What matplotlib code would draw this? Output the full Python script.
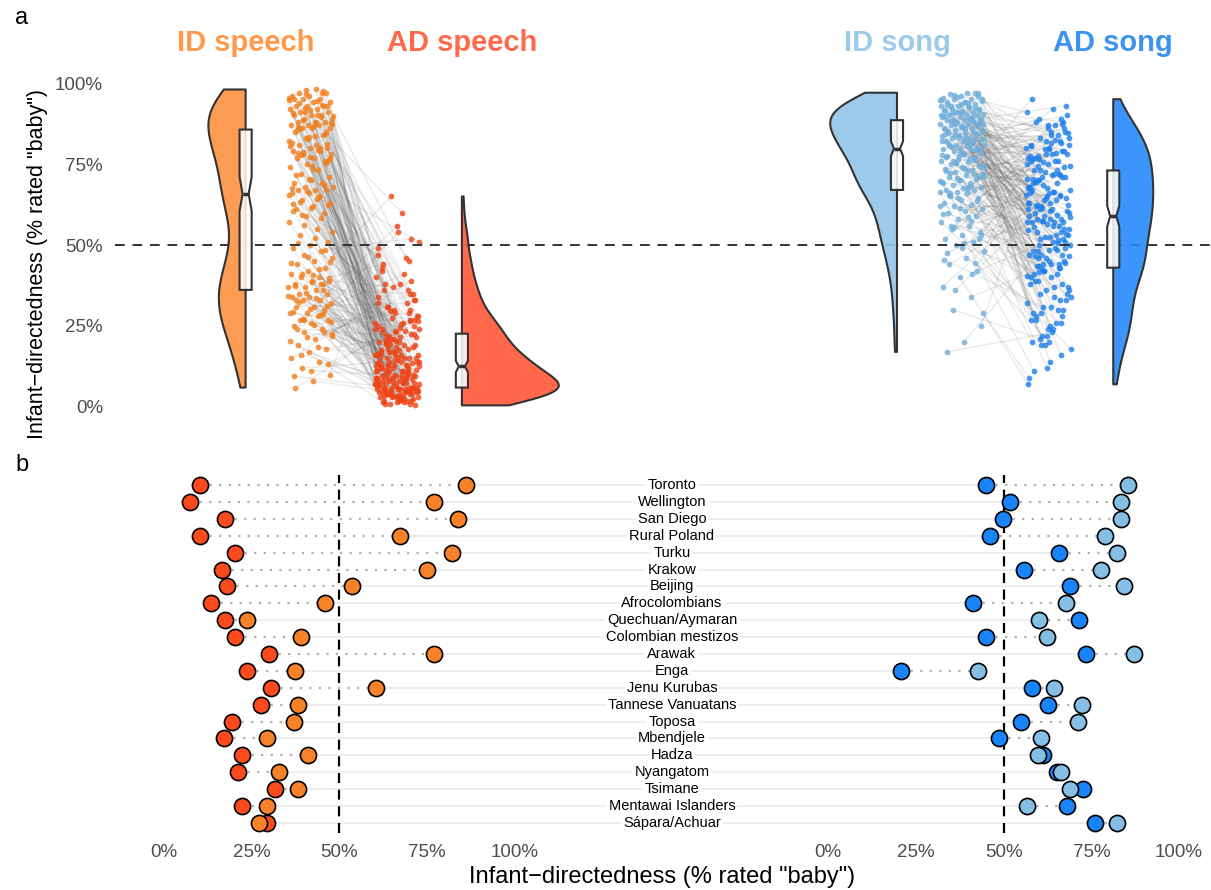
import numpy as np
import matplotlib.pyplot as plt
from matplotlib.patches import Polygon
from matplotlib.collections import LineCollection

plt.rcParams['font.family'] = ['Liberation Sans', 'DejaVu Sans']

W, H = 1211, 890

# ---- panel a: % rated "baby" per recording, same index = same pair
id_speech = [98, 97, 97, 96, 96, 95, 95, 94, 94, 93, 93, 93, 92, 92, 91, 91, 90, 90, 90, 89,
             89, 88, 88, 88, 87, 87, 87, 86, 86, 86,
             85, 84, 83, 82, 81, 81, 80, 80, 79, 79, 78, 78, 77, 77, 76, 75, 74, 73, 72, 71,
             70, 69, 69, 68, 68, 67, 67, 67, 66, 66,
             65, 64, 63, 62, 61, 60, 59, 57, 55, 53, 51, 50, 49, 48, 47, 46, 45, 44, 43, 42,
             41, 40, 40, 39, 39, 38, 38, 37, 37, 36,
             35, 35, 34, 34, 33, 33, 32, 31, 31, 30, 29, 29, 28, 27, 27, 26, 25, 24, 23, 22,
             21, 19, 18, 17, 15, 14, 12, 10, 8, 6,
             97.5, 96.5, 95.5, 94.5, 93.8, 92.8, 91.8, 90.6, 89.4, 88.6, 87.8, 86.8, 85.5, 84.2, 82.8,
             80.5, 79.2, 77.8, 76.2, 74.5, 95.2, 93.3, 91.1, 89.8, 88.1, 86.4, 84.8, 83.2, 81.6, 79.8,
             78.6, 76.8, 73.6, 71.5, 68.4, 66.8, 65.5, 64.2, 63.3, 62.4, 61.5, 60.4, 58.2, 56.3, 54.1,
             52.2, 50.5, 48.6, 46.4, 44.3, 42.5, 41.2, 39.8, 38.6, 37.4, 36.2, 35.3, 34.4, 33.6, 32.4,
             31.2, 30.3, 29.4, 28.4, 27.3, 26.2, 25.3, 24.2, 23.1, 21.5, 20.3, 18.5, 16.2, 13.4, 11.2,
             9.5, 96.8, 92.4, 87.4, 83.6, 78.3, 75.4, 70.4, 67.6, 64.8, 59.4, 44.8, 40.6, 33.1, 28.8,
             97.9, 94.9, 90.2, 86.1, 81.1, 77.1, 62.8, 38.1, 26.8, 22.6]
ad_speech = [12, 3, 22, 7, 45, 5.5, 15, 9, 30, 2, 18, 11, 6, 38, 4, 25, 8.5, 14, 1, 20,
             10, 60, 5, 16.5, 27, 7.5, 3.5, 13, 33, 19,
             6.5, 24, 9.5, 2.5, 17, 42, 11.5, 4.5, 21, 8, 28, 5, 14.5, 36, 3, 12.5, 23, 7, 51, 10.5,
             1.5, 19.5, 26, 6, 15.5, 9, 40, 4, 17.5, 31,
             13.5, 5.5, 24.5, 8, 47, 2, 21.5, 11, 34, 6, 16, 29.5, 4.5, 18.5, 10, 65, 3, 22.5, 7.5, 27.5,
             12, 0.5, 15, 37, 9.5, 5, 23.5, 13, 44, 6,
             8.5, 17, 3.5, 26.5, 10, 20.5, 5, 14, 32, 7, 1, 24, 11, 56, 4, 16, 29, 6, 19, 12.5,
             35, 2.5, 21, 9, 39, 5.5, 14, 49, 4, 25.5,
             5, 14, 2.5, 9, 21, 6.5, 33, 11, 4, 17, 7.5, 26, 3, 12, 19, 1.5, 8, 43, 15, 5.5,
             10, 23, 4.5, 13, 29, 6, 16, 2, 9.5, 38, 7, 18, 3.5, 11.5, 24, 5, 14.5, 31, 8.5, 1,
             20, 12.5, 6.5, 27, 3, 10.5, 16.5, 52, 4, 22, 8, 13.5, 2.5, 19.5, 7, 35, 11, 5.5, 15.5, 25,
             3.5, 9, 17.5, 6, 41, 12, 4.5, 21.5, 8.5, 30, 1.5, 14, 7.5, 23.5, 10, 5, 46, 16, 2, 28,
             9.5, 18.5, 6, 12.5, 36, 3, 20.5, 7, 15, 54, 4, 11, 26.5, 8, 13, 5.5, 22.5, 2.5, 17, 32]
id_song = [97, 96.5, 96, 96, 95.5, 95, 95, 94.5, 94, 94, 93.5, 93, 93, 92.5, 92, 92, 91.5, 91.5, 91, 91,
           90.5, 90.5, 90, 90, 89.5, 89.5, 89, 89, 89, 88.7,
           88.5, 88, 88, 87.5, 87.5, 87, 87, 86.5, 86, 86, 85.5, 85, 85, 84.5, 84, 84, 83.5, 83, 83, 82.5,
           82, 82, 81.5, 81, 81, 80.5, 80.5, 80, 80, 79.7,
           79.5, 79, 78.5, 78, 77.5, 77, 76.5, 76, 75.5, 75, 74.5, 74, 73.5, 73, 72.5, 72, 71.5, 71, 70.5, 70,
           69.5, 69, 68.5, 68, 67.5, 67, 67, 66.5, 66.5, 66,
           65, 64.5, 64, 63, 62.5, 62, 61, 60.5, 60, 59, 58, 57, 56, 55, 54, 53, 52, 51, 50, 48,
           46, 44, 42, 40, 37, 34, 30, 25, 20, 17,
           96.8, 95.8, 94.8, 93.8, 92.8, 91.8, 90.8, 89.8, 88.9, 88.2, 87.2, 86.2, 85.2, 84.2, 83.2,
           82.2, 81.2, 80.2, 79.2, 78.2, 77.2, 76.2, 75.2, 74.2, 73.2, 72.2, 71.2, 70.2, 69.2, 68.2,
           96.2, 95.2, 94.2, 93.2, 92.2, 91.2, 90.2, 89.2, 88.4, 87.8, 86.8, 85.8, 84.8, 83.8, 82.8,
           81.8, 80.8, 79.8, 78.8, 77.8, 76.8, 75.8, 74.8, 73.8, 72.8, 71.8, 70.8, 69.8, 67.8, 66.2,
           97, 93.6, 91.6, 89.4, 87.4, 85.4, 83.4, 81.4, 79.4, 77.4, 94.6, 92.6, 90.6, 88.6, 86.4,
           84.4, 82.4, 75.4, 71.4, 67.2, 65.5, 63.5, 61.5, 59.5, 57.5, 55.5, 53, 50.5, 47.5, 44.5,
           64.5, 62, 58.5, 56, 52, 49, 45.5, 41, 36, 29]
ad_song = [82, 45, 70, 91, 58, 25, 76.5, 63, 38, 85, 52, 68, 79, 31, 73, 47, 88, 61, 19, 77.5,
           55, 66.5, 42.5, 80.5, 71, 34, 75.5, 57, 93, 49,
           64, 29, 78, 53, 72.5, 41, 84.5, 59.2, 36, 69.5, 46.5, 76, 22, 62, 81, 50.5, 67.5, 27, 74.5, 56,
           87, 43.5, 65.5, 33, 79.5, 48, 70.5, 16, 60.5, 89,
           54.5, 87.5, 40, 83, 58.8, 30, 71.5, 47, 66, 86, 24, 61.5, 76, 51, 37, 68.5, 95, 44.5, 72, 57.5,
           20, 64.5, 82.5, 42, 69, 35, 78.5, 52.5, 11, 62.5,
           48.5, 78, 39, 60, 84, 56.5, 28, 67, 43, 75, 54, 18, 65, 80, 46, 32, 81.5, 58, 41.8, 77,
           26, 63, 50, 7, 71, 44, 21, 68, 57, 23,
           62, 38, 79, 51, 71, 27, 85, 57, 44, 67, 33, 76, 59, 48, 90, 64, 19, 73, 53, 41,
           82, 60, 36, 69, 46, 77, 55, 30, 65, 88, 50, 72, 24, 58, 80, 43, 66, 39, 75, 54,
           14, 70, 61, 47, 84, 35, 63, 52, 78, 29, 68, 45, 92, 57.5, 40, 74, 56, 22, 81, 49,
           66.5, 31, 76.5, 53.5, 87, 42, 70.5, 60.5, 26, 79.5, 55.5, 37, 73, 64.5, 46.5, 83, 51.5, 12,
           69.5, 58.5, 44, 86, 62.5, 34, 71.5, 48.5, 77.5, 40.5, 65.5, 20,
           74.5, 57, 89, 52.5, 43.5, 67.5, 28, 81.5, 61, 9]

# ---- panel b: society means
societies = ['Toronto', 'Wellington', 'San Diego', 'Rural Poland', 'Turku', 'Krakow', 'Beijing',
             'Afrocolombians', 'Quechuan/Aymaran', 'Colombian mestizos', 'Arawak', 'Enga',
             'Jenu Kurubas', 'Tannese Vanuatans', 'Toposa', 'Mbendjele', 'Hadza', 'Nyangatom',
             'Tsimane', 'Mentawai Islanders', 'Sápara/Achuar']
soc_ad_speech = [10.3, 7.4, 17.4, 10.3, 20.3, 16.6, 18.0, 13.4, 17.4, 20.3, 30.0, 23.7,
                 30.6, 27.7, 19.4, 17.1, 22.3, 21.1, 31.7, 22.3, 29.4]
soc_id_speech = [86.0, 76.9, 83.7, 67.1, 82.0, 74.9, 53.7, 46.0, 23.7, 38.9, 76.9, 37.4,
                 60.3, 38.3, 36.9, 29.4, 41.1, 32.9, 38.3, 29.4, 27.1]
soc_ad_song = [44.9, 51.7, 49.7, 46.0, 65.7, 55.7, 69.0, 41.4, 71.4, 44.9, 73.4, 20.9,
               58.0, 62.6, 54.9, 48.6, 61.1, 65.1, 72.6, 68.0, 76.0]
soc_id_song = [85.4, 83.4, 83.4, 79.0, 82.3, 77.7, 84.3, 67.7, 60.0, 62.3, 87.1, 42.6,
               64.3, 72.3, 71.1, 60.6, 59.7, 66.3, 68.9, 56.6, 82.3]

groups = ['ID speech', 'AD speech', 'ID song', 'AD song']
values = [id_speech, ad_speech, id_song, ad_song]
fills = ['#FD9140', '#FF5837', '#93C5E9', '#268AFA']
ptcol = ['#F07F1F', '#EE4416', '#6FAEDB', '#1E7FEA']
titlecol = ['#FF9A4D', '#FF6A4A', '#9ECAE9', '#3D93F0']
pos = [0, 1, 7.53, 8.53]
side = [-1, 1, -1, 1]
EDGE = '#333333'


def kde(vals, grid, adjust=0.9):
    v = np.asarray(vals, float)
    n = len(v)
    q75, q25 = np.percentile(v, [75, 25])
    bw = adjust * 0.9 * min(v.std(ddof=1), (q75 - q25) / 1.34) * n ** -0.2
    d = np.exp(-0.5 * ((grid[:, None] - v[None, :]) / bw) ** 2).sum(1)
    return d / (n * bw * np.sqrt(2 * np.pi))


def jitter(n, mult, width=0.52):
    k = np.arange(1, n + 1)
    return ((k * mult) % 1 - 0.5) * width


fig = plt.figure(figsize=(W / 100, H / 100), dpi=100)

# ================= panel a =================
axa = fig.add_axes([115 / W, 1 - 430 / H, 1096 / W, 370 / H])
axa.set_xlim(-2.26, 10.41)
axa.set_ylim(-7.1, 107.1)

axa.axhline(50, color=EDGE, lw=1.4, ls=(0, (5, 4)), zorder=2.5)

# paired lines + points
for a, b in [(0, 1), (2, 3)]:
    ya = np.asarray(values[a], float)
    yb = np.asarray(values[b], float)
    xa = pos[a] + jitter(len(ya), 0.6180339887)
    xb = pos[b] + jitter(len(yb), 0.7548776662)
    segs = [[(xa[i], ya[i]), (xb[i], yb[i])] for i in range(len(ya))]
    axa.add_collection(LineCollection(segs, colors='#555555', alpha=0.12, lw=1.0, zorder=1))
    axa.scatter(xa, ya, s=17, color=ptcol[a], alpha=0.8, lw=0, zorder=2)
    axa.scatter(xb, yb, s=17, color=ptcol[b], alpha=0.8, lw=0, zorder=2)

# half violins, common area scaling
grids = [np.linspace(min(v), max(v), 300) for v in values]
dens = [kde(v, g) for v, g in zip(values, grids)]
dmax = max(d.max() for d in dens)
wmax = 1.12
for i in range(4):
    x0 = pos[i] + side[i] * 0.75
    w = dens[i] / dmax * wmax
    g = grids[i]
    pts = [(x0, g[0])] + [(x0 + side[i] * wi, yi) for wi, yi in zip(w, g)] + [(x0, g[-1])]
    axa.add_patch(Polygon(pts, closed=True, fc=fills[i] + 'E6', ec=EDGE, lw=1.5,
                          zorder=3, joinstyle='round'))

    # notched box
    v = np.asarray(values[i], float)
    q1, med, q3 = np.percentile(v, [25, 50, 75])
    nd = 1.58 * (q3 - q1) / np.sqrt(len(v))
    lo, hi = med - nd, med + nd
    hw, nw = 0.07, 0.035
    box = [(x0 - hw, q1), (x0 + hw, q1), (x0 + hw, lo), (x0 + nw, med), (x0 + hw, hi),
           (x0 + hw, q3), (x0 - hw, q3), (x0 - hw, hi), (x0 - nw, med), (x0 - hw, lo)]
    axa.add_patch(Polygon(box, closed=True, fc=(1, 1, 1, 0.85), ec=EDGE, lw=1.5, zorder=5))
    axa.plot([x0 - nw, x0 + nw], [med, med], color=EDGE, lw=2.5, zorder=6,
             solid_capstyle='butt')

    axa.text(x0, 112.4, groups[i], color=titlecol[i], fontsize=21, fontweight='bold',
             ha='center', va='center', clip_on=False)

axa.set_yticks([0, 25, 50, 75, 100])
axa.set_yticklabels(['0%', '25%', '50%', '75%', '100%'])
axa.set_xticks([])
axa.tick_params(axis='y', length=0, pad=8.6, labelsize=13.5, labelcolor='#4D4D4D')
for s in axa.spines.values():
    s.set_visible(False)

# ================= panel b =================
axb = fig.add_axes([115 / W, 1 - 833 / H, 1096 / W, 358 / H])
off = 189.2
name_x = 144.7
axb.set_xlim(-13.96, 298.3)
axb.set_ylim(0.4, 21.6)

rows = np.arange(len(societies), 0, -1)
for k, y in enumerate(rows):
    s_hi = max(soc_ad_speech[k], soc_id_speech[k])
    g_lo = min(soc_ad_song[k], soc_id_song[k]) + off
    axb.plot([s_hi, g_lo], [y, y], color='#EBEBEB', lw=1.2, zorder=1)
    axb.plot([soc_ad_speech[k], soc_id_speech[k]], [y, y], color='#B0B0B0', lw=1.6,
             ls=(0, (1, 3.3)), zorder=2)
    axb.plot([soc_ad_song[k] + off, soc_id_song[k] + off], [y, y], color='#B0B0B0', lw=1.6,
             ls=(0, (1, 3.3)), zorder=2)
    axb.text(name_x, y, societies[k], ha='center', va='center', fontsize=10.5, zorder=4,
             bbox=dict(fc='white', ec='none', pad=1.5))

for xv in (50, 50 + off):
    axb.axvline(xv, color='black', lw=1.6, ls=(0, (4.5, 3)), zorder=1.5)

axb.scatter(soc_ad_speech, rows, s=135, color='#FB4B1E', edgecolor='black', lw=1.2, zorder=5)
axb.scatter(soc_id_speech, rows, s=135, color='#F8822A', edgecolor='black', lw=1.2, zorder=6)
axb.scatter(np.array(soc_ad_song) + off, rows, s=135, color='#1984F8', edgecolor='black',
            lw=1.2, zorder=5)
axb.scatter(np.array(soc_id_song) + off, rows, s=135, color='#86BFE5', edgecolor='black',
            lw=1.2, zorder=6)

ticks = [0, 25, 50, 75, 100]
axb.set_xticks(ticks + [t + off for t in ticks])
axb.set_xticklabels([f'{t}%' for t in ticks] * 2)
axb.set_yticks([])
axb.tick_params(axis='x', length=0, pad=8, labelsize=13.5, labelcolor='#4D4D4D')
for s in axb.spines.values():
    s.set_visible(False)

# labels
fig.text(38 / W, 1 - 264 / H, 'Infant\u2212directedness (% rated "baby")', rotation=90,
         ha='center', va='center', fontsize=15.5)
fig.text(662 / W, 1 - 877 / H, 'Infant\u2212directedness (% rated "baby")',
         ha='center', va='center', fontsize=17)
fig.text(22 / W, 1 - 18 / H, 'a', ha='center', va='center', fontsize=17)
fig.text(22 / W, 1 - 465 / H, 'b', ha='center', va='center', fontsize=17)

fig.savefig('out.png', dpi=100)
